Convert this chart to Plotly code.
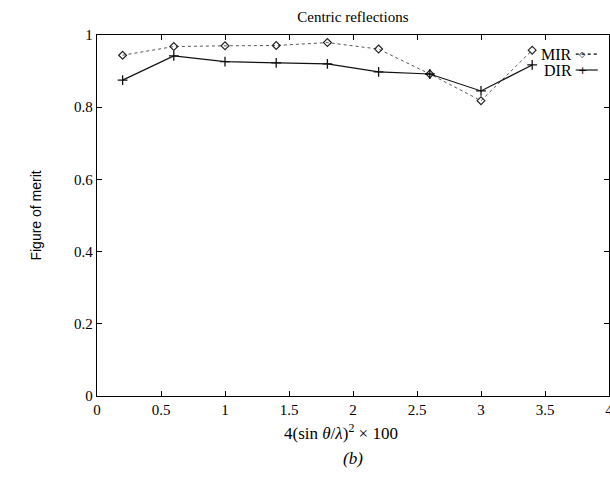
import plotly.graph_objects as go

x_vals = [0.2, 0.6, 1.0, 1.4, 1.8, 2.2, 2.6, 3.0, 3.4]
mir = [0.944, 0.968, 0.970, 0.971, 0.979, 0.961, 0.892, 0.818, 0.958]
dir_ = [0.875, 0.942, 0.926, 0.923, 0.920, 0.898, 0.892, 0.845, 0.917]
x_ticks = [0, 0.5, 1, 1.5, 2, 2.5, 3, 3.5, 4]
x_tick_labels = ["0", "0.5", "1", "1.5", "2", "2.5", "3", "3.5", "4"]
y_ticks = [0, 0.2, 0.4, 0.6, 0.8, 1]
y_tick_labels = ["0", "0.2", "0.4", "0.6", "0.8", "1"]

serif = "Liberation Serif, Times New Roman, serif"

fig = go.Figure()
fig.add_trace(go.Scatter(
    x=x_vals, y=mir, mode="lines+markers", name="MIR",
    line=dict(color="#555555", width=1, dash="3px,3px"),
    marker=dict(symbol="diamond-open", size=6, color="#222222", line=dict(width=1.2)),
    showlegend=False))
fig.add_trace(go.Scatter(
    x=x_vals, y=dir_, mode="lines+markers", name="DIR",
    line=dict(color="#111111", width=1.2),
    marker=dict(symbol="cross-thin-open", size=7, color="#111111", line=dict(width=1.3, color="#111111")),
    showlegend=False))

axis_common = dict(showgrid=False, zeroline=False, showline=True, linecolor="black",
                   linewidth=1.3, mirror="ticks", ticks="inside", ticklen=5, automargin=False,
                   tickcolor="black", tickfont=dict(family=serif, size=15, color="black"))
fig.update_xaxes(range=[0, 4], tickvals=x_ticks, ticktext=x_tick_labels,
                 ticklabeloverflow="allow", **axis_common)
fig.update_yaxes(range=[0, 1], tickvals=y_ticks, ticktext=y_tick_labels, **axis_common)

annotations = []
shapes = []
# legend (gnuplot style: text then sample)
leg_y = [0.947, 0.903]
names = ["MIR", "DIR"]
syms = ["◇", "+"]
dashes = ["dot", "solid"]
for nm, yy, sy, ds in zip(names, leg_y, syms, dashes):
    annotations.append(dict(x=0.932, y=yy, xref="paper", yref="paper", text=nm, showarrow=False,
                            xanchor="right", yanchor="middle",
                            font=dict(family=serif, size=16, color="black")))
    shapes.append(dict(type="line", xref="paper", yref="paper", x0=0.935, x1=0.978, y0=yy, y1=yy,
                       line=dict(color="black", width=1.1, dash=ds)))
    annotations.append(dict(x=0.949, y=yy, xref="paper", yref="paper", text=sy, showarrow=False,
                            xanchor="center", yanchor="middle",
                            font=dict(family="DejaVu Sans", size=8 if sy == "◇" else 11, color="black")))

annotations += [
    dict(x=0.477, y=-0.1, xref="paper", yref="paper", showarrow=False,
         text="4(sin <i>θ</i>/<i>λ</i>)<sup>2</sup> × 100", xanchor="center", yanchor="middle",
         font=dict(family=serif, size=17, color="black")),
    dict(x=-0.121, y=0.5, xref="paper", yref="paper", showarrow=False,
         text="Figure of merit", textangle=-90, xanchor="center", yanchor="middle",
         font=dict(family="Liberation Sans, Arial, sans-serif", size=14, color="black")),
    dict(x=0.5, y=-0.172, xref="paper", yref="paper", showarrow=False,
         text="<i>(b)</i>", yanchor="middle",
         font=dict(family=serif, size=17, color="black")),
]

fig.update_layout(
    width=610, height=477,
    margin=dict(l=97, r=1, t=35, b=81, autoexpand=False),
    paper_bgcolor="white", plot_bgcolor="white",
    title=dict(text="Centric reflections", x=0.5785, xanchor="center", y=0.965, yanchor="middle",
               font=dict(family=serif, size=15, color="black")),
    annotations=annotations, shapes=shapes,
)

fig.write_html("out.html")
